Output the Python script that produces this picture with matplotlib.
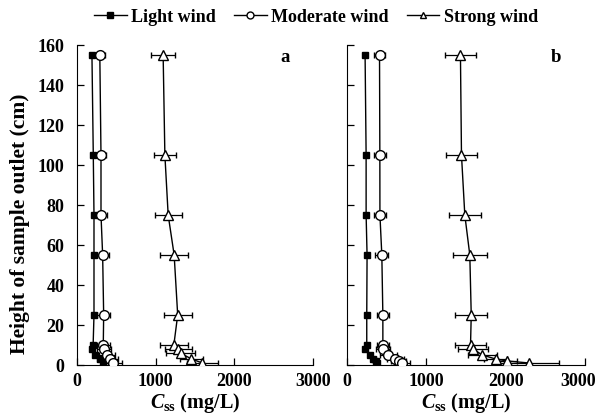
import matplotlib
matplotlib.use("Agg")
import matplotlib.pyplot as plt
from matplotlib.lines import Line2D
import matplotlib.transforms as mtransforms

plt.rcParams['font.family'] = ['Liberation Serif', 'DejaVu Serif']
plt.rcParams['mathtext.fontset'] = 'custom'
plt.rcParams['mathtext.rm'] = 'Liberation Serif'
plt.rcParams['mathtext.it'] = 'Liberation Serif:italic:bold'
plt.rcParams['mathtext.bf'] = 'Liberation Serif:bold'

# ---- Panel a ----
a_light_h = [155, 105, 75, 55, 25, 10, 8, 5, 3, 1]
a_light_v = [190, 207, 216, 216, 216, 205, 190, 230, 290, 330]
a_light_e = [25, 25, 25, 25, 25, 25, 30, 30, 30, 30]

a_mod_h = [155, 105, 75, 55, 25, 10, 8, 5, 3, 1]
a_mod_v = [290, 305, 305, 326, 339, 334, 345, 377, 419, 457]
a_mod_e = [70, 60, 70, 75, 80, 80, 90, 100, 100, 110]

a_str_h = [155, 105, 75, 55, 25, 10, 8, 6, 3, 1]
a_str_v = [1095, 1117, 1159, 1235, 1280, 1231, 1290, 1316, 1455, 1595]
a_str_e = [155, 144, 170, 175, 178, 175, 170, 190, 150, 200]

# ---- Panel b ----
b_light_h = [155, 105, 75, 55, 25, 10, 8, 5, 3, 2, 1]
b_light_v = [228, 241, 241, 253, 249, 249, 228, 291, 333, 360, 376]
b_light_e = [25, 25, 25, 25, 25, 25, 30, 30, 30, 30, 30]

b_mod_h = [155, 105, 75, 55, 25, 10, 8, 5, 3, 2, 1]
b_mod_v = [410, 414, 415, 439, 452, 452, 453, 523, 608, 650, 692]
b_mod_e = [70, 75, 75, 80, 80, 80, 90, 110, 110, 100, 100]

b_str_h = [155, 105, 75, 55, 25, 10, 8, 5, 3, 2, 1]
b_str_v = [1430, 1443, 1485, 1548, 1566, 1557, 1591, 1705, 1873, 2021, 2295]
b_str_e = [200, 198, 200, 215, 200, 200, 190, 180, 150, 120, 380]

xticks = [0, 1000, 2000, 3000]
yticks = [0, 20, 40, 60, 80, 100, 120, 140, 160]
labels = ['Light wind', 'Moderate wind', 'Strong wind']

fig = plt.figure(figsize=(5.98, 4.14), dpi=100)
ax1 = fig.add_axes([77/598, 1-366/414, 236/598, 320/414])
ax2 = fig.add_axes([347/598, 1-366/414, 238/598, 320/414])

styles = [
    dict(marker='s', ms=5, mfc='black', mec='black'),
    dict(marker='o', ms=7, mfc='white', mec='black', mew=1.0),
    dict(marker='^', ms=7.5, mfc='white', mec='black', mew=1.0),
]

def draw(ax, data, tag, show_y):
    for (h, v, e), st in zip(data, styles):
        ax.errorbar(v, h, xerr=e, color='black', lw=1.0, elinewidth=0.9,
                    capsize=2.2, capthick=0.9, zorder=3, **st)
    ax.set_xlim(0, 3000)
    ax.set_ylim(0, 160)
    ax.set_xticks(xticks)
    ax.set_yticks(yticks)
    ax.spines['top'].set_visible(False)
    ax.spines['right'].set_visible(False)
    ax.tick_params(direction='in', length=5, width=0.9, labelsize=13)
    ax.tick_params(axis='y', pad=9)
    ax.tick_params(axis='x', pad=5)
    for lab in ax.get_xticklabels() + ax.get_yticklabels():
        lab.set_fontweight('bold')
    if not show_y:
        ax.set_yticklabels([])
    else:
        ax.set_ylabel('Height of sample outlet (cm)', fontsize=15.5,
                      fontweight='bold')
        ax.yaxis.set_label_coords((30-77)/236, (366-224)/320)
    ax.set_xlabel(r'$\mathit{C}_{\mathbf{ss}}$' + ' (mg/L)', fontsize=14.5,
                  fontweight='bold')
    ax.xaxis.set_label_coords(0.5, (366-391)/320)
    ax.text(0.88, 0.965, tag, transform=ax.transAxes, fontsize=13.5,
            fontweight='bold', ha='center', va='center')

draw(ax1, [(a_light_h, a_light_v, a_light_e),
           (a_mod_h, a_mod_v, a_mod_e),
           (a_str_h, a_str_v, a_str_e)], 'a', True)
draw(ax2, [(b_light_h, b_light_v, b_light_e),
           (b_mod_h, b_mod_v, b_mod_e),
           (b_str_h, b_str_v, b_str_e)], 'b', False)

# nudge the last x tick label of panel b left so it stays inside the figure
last = ax2.get_xticklabels()[-1]
last.set_transform(last.get_transform() +
                   mtransforms.ScaledTranslation(-7/100, 0, fig.dpi_scale_trans))

handles = [
    Line2D([], [], color='black', lw=1.0, marker='s', ms=4, mfc='black', mec='black'),
    Line2D([], [], color='black', lw=1.0, marker='o', ms=5, mfc='white', mec='black'),
    Line2D([], [], color='black', lw=1.0, marker='^', ms=5, mfc='white', mec='black'),
]
fig.legend(handles, labels, loc='center', bbox_to_anchor=(316/598, 1-18/414),
           ncol=3, frameon=False, handlelength=1.8,
           handletextpad=0.25, columnspacing=1.0,
           prop={'weight': 'bold', 'size': 13})

fig.savefig('out.png', dpi=100)
